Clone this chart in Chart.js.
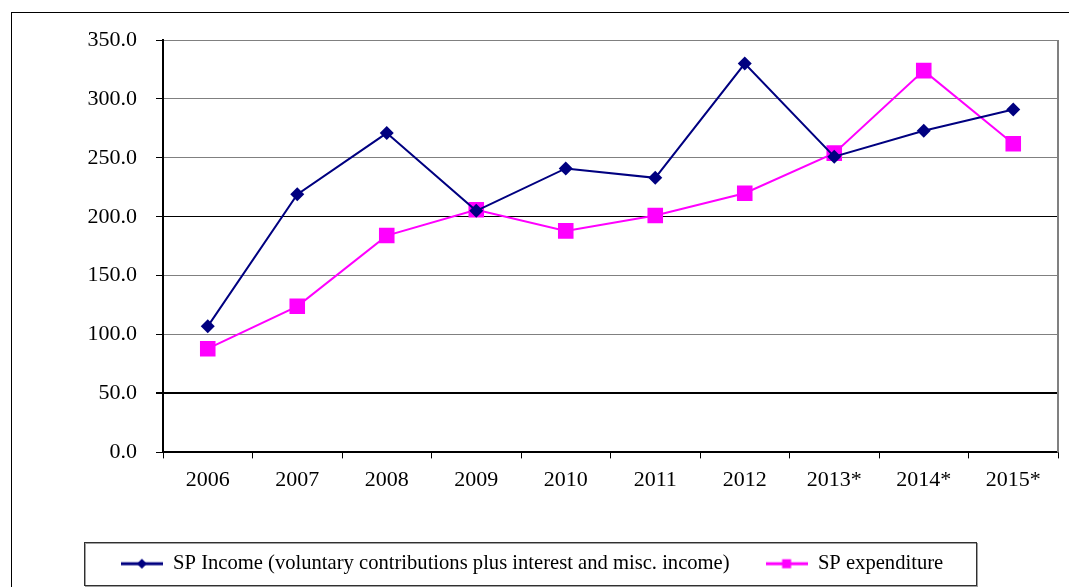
<!DOCTYPE html>
<html>
<head>
<meta charset="utf-8">
<script src="https://cdn.jsdelivr.net/npm/chart.js@4.4.1/dist/chart.umd.min.js"></script>
<style>
  html, body { margin: 0; padding: 0; background: #fff; width: 1069px; height: 587px; overflow: hidden; }
  #frame { position: absolute; left: 11px; top: 12px; width: 1100px; height: 600px; border-left: 1px solid #000; border-top: 1px solid #000; }
  #c { position: absolute; left: 0; top: 0; }
</style>
</head>
<body>
<div id="frame"></div>
<canvas id="c" width="1069" height="587"></canvas>
<script>
const categories = ['2006', '2007', '2008', '2009', '2010', '2011', '2012', '2013*', '2014*', '2015*'];
const incomeLabel = 'SP Income (voluntary contributions plus interest and misc. income)';
const expenditureLabel = 'SP expenditure';
const incomeValues = [107, 219, 271, 205, 241, 233, 330, 251, 273, 291];
const expenditureValues = [88, 124, 184, 206, 188, 201, 220, 254, 324, 262];
const yTicks = [0, 50, 100, 150, 200, 250, 300, 350];

const FONT = "'Liberation Serif', 'Times New Roman', serif";
const NAVY = '#000080';
const PINK = '#FF00FF';

function legendIcon(color, shape) {
  const cv = document.createElement('canvas');
  cv.width = 42; cv.height = 12;
  const g = cv.getContext('2d');
  g.strokeStyle = color; g.lineWidth = 3;
  g.beginPath(); g.moveTo(0, 6); g.lineTo(42, 6); g.stroke();
  g.fillStyle = color;
  if (shape === 'diamond') {
    g.beginPath(); g.moveTo(21, 1); g.lineTo(26, 6); g.lineTo(21, 11); g.lineTo(16, 6); g.closePath(); g.fill();
  } else {
    g.fillRect(16.5, 1.5, 9, 9);
  }
  return cv;
}
const icons = [legendIcon(NAVY, 'diamond'), legendIcon(PINK, 'square')];

const framePlugin = {
  id: 'framePlugin',
  afterDraw(chart) {
    const ctx = chart.ctx;
    const a = chart.chartArea;
    ctx.save();
    ctx.strokeStyle = '#808080';
    ctx.lineWidth = 2;
    ctx.beginPath();
    ctx.moveTo(a.right, a.top);
    ctx.lineTo(a.right, a.bottom);
    ctx.stroke();
    const lg = chart.legend;
    if (lg && lg.legendHitBoxes && lg.legendHitBoxes.length) {
      const hb = lg.legendHitBoxes;
      const first = hb[0], last = hb[hb.length - 1];
      const cy = first.top + first.height / 2;
      const x0 = Math.round(first.left - 37) + 0.5;
      const x1 = Math.round(last.left + last.width + 33) + 0.5;
      const y0 = Math.round(cy - 22) + 0.5;
      const y1 = Math.round(cy + 21) + 0.5;
      ctx.lineWidth = 1;
      ctx.strokeStyle = '#a0a0a0';
      ctx.strokeRect(x0 + 1, y0 + 1, x1 - x0, y1 - y0);
      ctx.strokeStyle = '#303030';
      ctx.strokeRect(x0, y0, x1 - x0, y1 - y0);
    }
    ctx.restore();
  }
};

new Chart(document.getElementById('c'), {
  type: 'line',
  data: {
    labels: categories,
    datasets: [
      {
        label: incomeLabel,
        data: incomeValues,
        borderColor: NAVY,
        backgroundColor: NAVY,
        borderWidth: 2,
        pointStyle: 'rectRot',
        pointRadius: 7,
        pointHoverRadius: 7,
        pointBorderWidth: 0,
        tension: 0
      },
      {
        label: expenditureLabel,
        data: expenditureValues,
        borderColor: PINK,
        backgroundColor: PINK,
        borderWidth: 2,
        pointStyle: 'rect',
        pointRadius: 11,
        pointHoverRadius: 11,
        pointBorderWidth: 0,
        tension: 0
      }
    ]
  },
  options: {
    responsive: false,
    animation: false,
    devicePixelRatio: 1,
    layout: { padding: { left: 0, top: 40, right: 5, bottom: 3 } },
    plugins: {
      title: { display: false },
      tooltip: { enabled: false },
      legend: {
        display: true,
        position: 'bottom',
        labels: {
          usePointStyle: true,
          pointStyleWidth: 42,
          padding: 36,
          color: '#000',
          font: { family: FONT, size: 20.6 },
          generateLabels(chart) {
            return chart.data.datasets.map((ds, i) => ({
              text: ds.label,
              pointStyle: icons[i],
              fillStyle: ds.borderColor,
              strokeStyle: ds.borderColor,
              lineWidth: 0,
              hidden: false,
              datasetIndex: i,
              fontColor: '#000'
            }));
          }
        }
      }
    },
    scales: {
      x: {
        offset: true,
        afterFit(scale) { scale.height = 65; },
        grid: {
          display: true,
          offset: true,
          drawOnChartArea: false,
          drawTicks: true,
          tickLength: 6,
          tickColor: '#000',
          tickWidth: 1
        },
        border: { display: true, color: '#000', width: 2 },
        ticks: {
          color: '#000',
          font: { family: FONT, size: 22 },
          padding: 9,
          maxRotation: 0,
          autoSkip: false
        }
      },
      y: {
        min: 0,
        max: 350,
        afterFit(scale) { scale.width = 163; },
        afterBuildTicks(scale) { scale.ticks = yTicks.map(v => ({ value: v })); },
        grid: {
          display: true,
          drawOnChartArea: true,
          drawTicks: true,
          tickLength: 7,
          tickColor: '#000',
          color(ctx) {
            const v = ctx.tick ? ctx.tick.value : null;
            if (v === 50 || v === 200) return '#000';
            return '#808080';
          },
          lineWidth(ctx) {
            const v = ctx.tick ? ctx.tick.value : null;
            return v === 50 ? 2 : 1;
          }
        },
        border: { display: true, color: '#000', width: 2 },
        ticks: {
          color: '#000',
          font: { family: FONT, size: 22 },
          padding: 19,
          callback: v => Number(v).toFixed(1)
        }
      }
    }
  },
  plugins: [framePlugin]
});
</script>
</body>
</html>
